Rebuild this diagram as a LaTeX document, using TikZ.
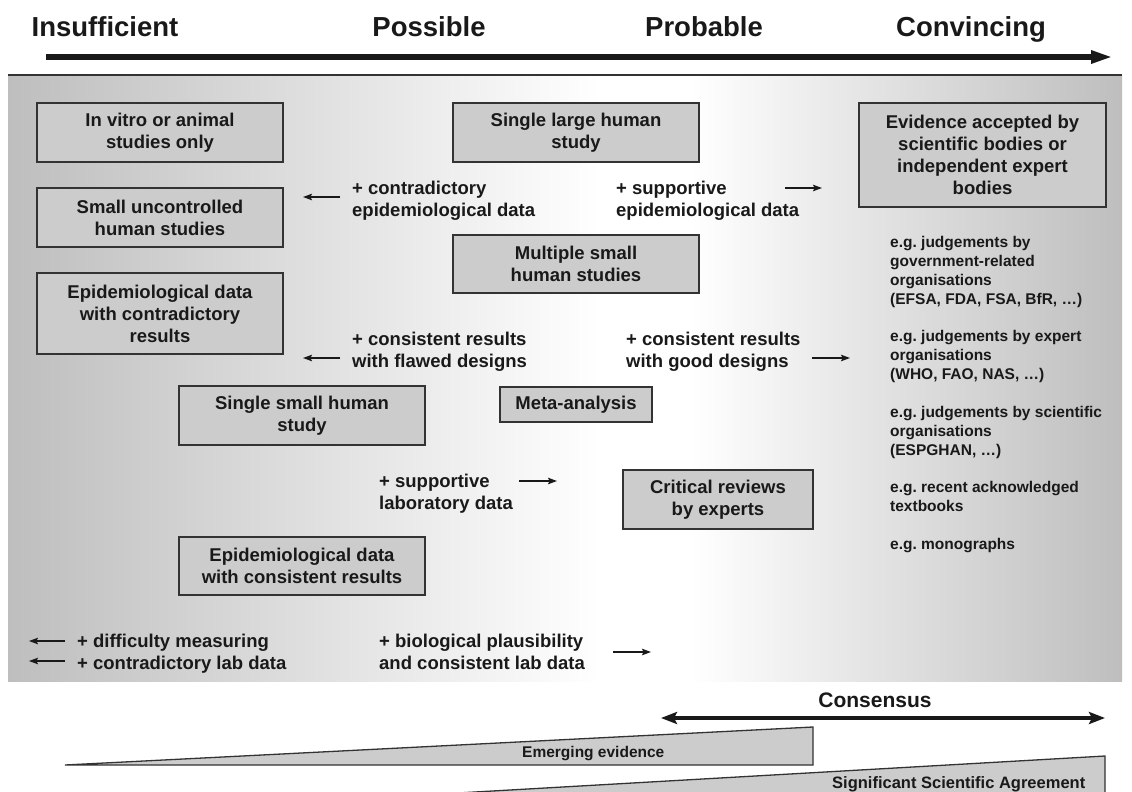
\documentclass[tikz,border=0pt]{standalone}
\usepackage{fontspec}
\setmainfont{Liberation Sans}
\usetikzlibrary{arrows.meta}
\frenchspacing
\definecolor{boxfill}{gray}{0.8}
\definecolor{edgec}{gray}{0.2}
\definecolor{ink}{gray}{0.1}
\definecolor{panelgray}{gray}{0.745}
\begin{document}
\frenchspacing
\begin{tikzpicture}[x=1pt,y=-1pt,
  box/.style={draw=edgec, line width=1.3pt, fill=boxfill, align=center, text=ink, inner sep=0pt,
    font={\fontsize{18.5}{22}\selectfont\bfseries}},
  lbl/.style={anchor=base west, align=left, inner sep=0pt, text=ink,
    font={\fontsize{18.5}{22}\selectfont\bfseries}},
  sml/.style={anchor=base west, align=left, inner sep=0pt, text=ink,
    font={\fontsize{15.5}{18.7}\selectfont\bfseries\frenchspacing}},
  ttl/.style={anchor=base, inner sep=0pt, text=ink,
    font={\fontsize{27.5}{30}\selectfont\bfseries}},
  sarrow/.style={line width=1.2pt, draw=ink, -{Stealth[length=9pt,width=6.5pt,inset=1.5pt]}},
  wedge/.style={fill=boxfill, draw=edgec, line width=1.3pt, line join=miter}
]
\useasboundingbox (0,0) rectangle (1132,792);
\fill[white] (0,0) rectangle (1132,792);

% titles
\node[ttl] (t1) at (105,37) {Insufficient};
\node[ttl] (t2) at (429,37) {Possible};
\node[ttl] (t3) at (704,37) {Probable};
\node[ttl] (t4) at (971,37) {Convincing};
\coordinate (ts) at (46,57);
\coordinate (te) at (1113,57);
\draw[line width=5.5pt, draw=ink, -{Triangle[length=22pt,width=12pt]}] (ts) -- (te);

% panel
\shade[left color=panelgray, right color=white] (8,75) rectangle (600,681);
\fill[white] (599,75) rectangle (691,681);
\shade[left color=white, right color=panelgray] (690,75) rectangle (1122,681);
\draw[line width=1.3pt, draw=edgec] (8,75) -- (1122,75);

% boxes
\node[box, minimum width=246pt, minimum height=59pt] (b1) at (160,132.5) {In vitro or animal\\studies only};
\node[box, minimum width=246pt, minimum height=59pt] (b2) at (160,217.5) {Small uncontrolled\\human studies};
\node[box, minimum width=246pt, minimum height=81pt] (b3) at (160,313.5) {Epidemiological data\\with contradictory\\results};
\node[box, minimum width=246pt, minimum height=59pt] (b4) at (576,132.5) {Single large human\\study};
\node[box, minimum width=246pt, minimum height=58pt] (b5) at (576,264) {Multiple small\\human studies};
\node[box, minimum width=247pt, minimum height=104pt] (b6) at (982.5,155) {Evidence accepted by\\scientific bodies or\\independent expert\\bodies};
\node[box, minimum width=246pt, minimum height=59pt] (b7) at (302,415.5) {Single small human\\study};
\node[box, minimum width=152pt, minimum height=35pt] (b8) at (576,404.5) {Meta-analysis};
\node[box, minimum width=190pt, minimum height=59pt] (b9) at (718,499.5) {Critical reviews\\by experts};
\node[box, minimum width=246pt, minimum height=58pt] (b10) at (302,566) {Epidemiological data\\with consistent results};

% labels (anchor = baseline of last line)
\node[lbl] (l1) at (352,216) {+ contradictory\\epidemiological data};
\node[lbl] (l2) at (616,216) {+ supportive\\epidemiological data};
\node[lbl] (l3) at (352,367) {+ consistent results\\with flawed designs};
\node[lbl] (l4) at (626,367) {+ consistent results\\with good designs};
\node[lbl] (l5) at (379,509) {+ supportive\\laboratory data};
\node[lbl] (l6) at (379,669) {+ biological plausibility\\and consistent lab data};
\node[lbl] (l7) at (77,669) {+ difficulty measuring\\+ contradictory lab data};

% arrows
\coordinate (a1s) at (340,197); \coordinate (a1e) at (303,197);
\draw[sarrow] (a1s) -- (a1e);
\coordinate (a2s) at (785,188); \coordinate (a2e) at (822,188);
\draw[sarrow] (a2s) -- (a2e);
\coordinate (a3s) at (340,358); \coordinate (a3e) at (303,358);
\draw[sarrow] (a3s) -- (a3e);
\coordinate (a4s) at (812,358); \coordinate (a4e) at (850,358);
\draw[sarrow] (a4s) -- (a4e);
\coordinate (a5s) at (519,481); \coordinate (a5e) at (557,481);
\draw[sarrow] (a5s) -- (a5e);
\coordinate (a6s) at (613,652); \coordinate (a6e) at (651,652);
\draw[sarrow] (a6s) -- (a6e);
\coordinate (a7s) at (65,641); \coordinate (a7e) at (29,641);
\draw[sarrow] (a7s) -- (a7e);
\coordinate (a8s) at (65,661); \coordinate (a8e) at (29,661);
\draw[sarrow] (a8s) -- (a8e);

% right column texts
\node[sml] (r1) at (890,304) {e.g. judgements by\\government-related\\organisations\\(EFSA, FDA, FSA, BfR, …)};
\node[sml] (r2) at (890,379) {e.g. judgements by expert\\organisations\\(WHO, FAO, NAS, …)};
\node[sml] (r3) at (890,455) {e.g. judgements by scientific\\organisations\\(ESPGHAN, …)};
\node[sml] (r4) at (890,511) {e.g. recent acknowledged\\textbooks};
\node[sml] (r5) at (890,549) {e.g. monographs};

% consensus
\node[ttl, font={\fontsize{21}{24}\selectfont\bfseries}] (cons) at (875,707) {Consensus};
\coordinate (c1) at (661,718); \coordinate (c2) at (1105,718);
\draw[line width=3.5pt, draw=ink, {Stealth[length=16pt,width=12pt,inset=3pt]}-{Stealth[length=16pt,width=12pt,inset=3pt]}] (c1) -- (c2);

% wedges
\filldraw[wedge] (65,765) -- (813,727) -- (813,765) -- cycle;
\node[sml] (em) at (522,757) {Emerging evidence};
\filldraw[wedge] (440,794) -- (1105,756) -- (1105,794) -- cycle;
\node[sml, font={\fontsize{16.5}{19}\selectfont\bfseries}] (sig) at (832,788) {Significant Scientific Agreement};
\end{tikzpicture}
\end{document}
